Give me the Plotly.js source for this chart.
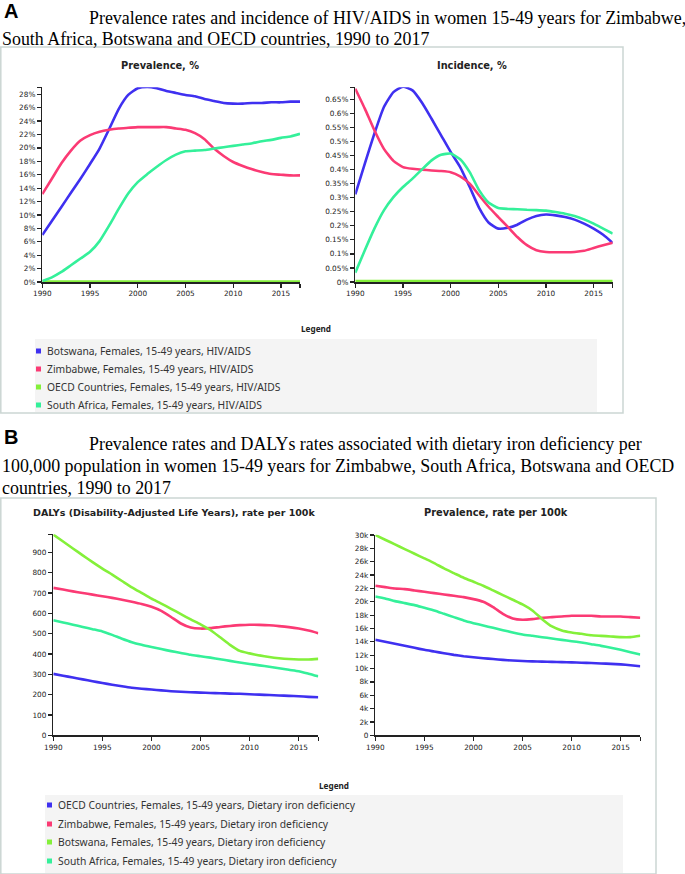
<!DOCTYPE html>
<html>
<head>
<meta charset="utf-8">
<script src="https://cdn.plot.ly/plotly-3.0.1.min.js"></script>
<style>
html,body{margin:0;padding:0;background:#fff;}
#chart{width:685px;height:874px;}
</style>
</head>
<body>
<div id="chart"></div>
<script>
// ---------- data ----------
const years = [1990,1991,1992,1993,1994,1995,1996,1997,1998,1999,2000,2001,2002,2003,2004,2005,2006,2007,2008,2009,2010,2011,2012,2013,2014,2015,2016,2017];

// Panel A: HIV/AIDS, women 15-49
const seriesA = ["Botswana, Females, 15-49 years, HIV/AIDS",
                 "Zimbabwe, Females, 15-49 years, HIV/AIDS",
                 "OECD Countries, Females, 15-49 years, HIV/AIDS",
                 "South Africa, Females, 15-49 years, HIV/AIDS"];
// Prevalence, %
const hivPrevBotswana  = [7.0,9.1,11.2,13.3,15.4,17.6,19.9,22.8,25.8,27.9,28.9,29.1,28.9,28.5,28.2,27.9,27.7,27.3,27.0,26.7,26.6,26.6,26.7,26.7,26.8,26.8,26.9,26.9];
const hivPrevZimbabwe  = [13.1,15.4,17.7,19.6,21.1,21.9,22.4,22.7,22.9,23.0,23.1,23.1,23.1,23.1,22.9,22.7,22.2,21.3,19.9,18.8,17.9,17.3,16.8,16.4,16.1,16.0,15.9,15.9];
const hivPrevOECD      = [0.05,0.05,0.06,0.06,0.07,0.07,0.07,0.08,0.08,0.08,0.08,0.08,0.08,0.08,0.08,0.08,0.08,0.08,0.08,0.08,0.08,0.08,0.08,0.08,0.08,0.08,0.08,0.08];
const hivPrevSouthAfrica = [0.15,0.7,1.5,2.5,3.5,4.5,6.1,8.4,10.9,13.2,14.9,16.1,17.2,18.2,19.0,19.5,19.6,19.7,19.9,20.1,20.3,20.5,20.7,21.0,21.2,21.5,21.7,22.1];
// Incidence, %
const hivIncBotswana   = [0.312,0.421,0.528,0.623,0.676,0.695,0.682,0.638,0.581,0.522,0.463,0.409,0.338,0.263,0.211,0.190,0.193,0.204,0.222,0.235,0.240,0.237,0.231,0.222,0.208,0.190,0.168,0.139];
const hivIncZimbabwe   = [0.688,0.617,0.540,0.474,0.431,0.409,0.403,0.400,0.397,0.395,0.391,0.376,0.350,0.308,0.267,0.231,0.196,0.160,0.131,0.113,0.107,0.106,0.106,0.107,0.111,0.121,0.131,0.140];
const hivIncOECD       = [0.003,0.003,0.003,0.003,0.003,0.003,0.003,0.003,0.003,0.003,0.003,0.003,0.003,0.003,0.003,0.003,0.003,0.003,0.003,0.003,0.003,0.003,0.003,0.003,0.003,0.003,0.003,0.003];
const hivIncSouthAfrica = [0.033,0.113,0.190,0.255,0.302,0.338,0.368,0.401,0.433,0.453,0.457,0.437,0.391,0.326,0.282,0.263,0.260,0.259,0.257,0.256,0.254,0.249,0.243,0.235,0.223,0.208,0.190,0.172];

// Panel B: dietary iron deficiency, women 15-49
const seriesB = ["OECD Countries, Females, 15-49 years, Dietary iron deficiency",
                 "Zimbabwe, Females, 15-49 years, Dietary iron deficiency",
                 "Botswana, Females, 15-49 years, Dietary iron deficiency",
                 "South Africa, Females, 15-49 years, Dietary iron deficiency"];
// DALYs, rate per 100k
const dalyOECD        = [302,293,284,275,266,257,249,241,234,229,225,221,217,214,212,210,208,207,205,204,202,200,198,196,194,192,189,187];
const dalyZimbabwe    = [725,717,708,700,692,684,676,667,657,646,632,612,582,550,530,525,527,533,538,542,544,543,541,537,532,525,515,502];
const dalyBotswana    = [987,953,919,885,852,820,790,759,728,700,672,648,622,596,570,546,518,482,445,415,403,393,385,379,375,373,373,376];
const dalySouthAfrica = [566,555,544,533,522,511,494,475,458,445,434,424,414,405,396,389,382,374,366,358,351,344,337,330,322,315,303,290];
// Prevalence, rate per 100k
const ironPrevOECD        = [14300,14000,13700,13400,13100,12800,12550,12300,12050,11850,11700,11550,11420,11300,11200,11120,11070,11030,11000,10960,10920,10870,10820,10760,10700,10620,10500,10350];
const ironPrevZimbabwe    = [22400,22200,22000,21900,21700,21500,21300,21100,20900,20700,20400,20000,19200,18200,17500,17300,17400,17600,17700,17800,17900,17900,17900,17800,17800,17800,17700,17600];
const ironPrevBotswana    = [30000,29300,28600,27900,27200,26500,25800,25000,24300,23600,23000,22400,21700,21000,20300,19600,18700,17400,16300,15700,15400,15200,15000,14900,14800,14700,14700,14900];
const ironPrevSouthAfrica = [20800,20500,20100,19800,19500,19100,18700,18200,17700,17200,16800,16450,16100,15750,15400,15100,14900,14700,14500,14300,14100,13900,13650,13400,13100,12800,12450,12100];

// tick labels
const xTickVals = [1990,1995,2000,2005,2010,2015,2017];
const xTickText = ["1990","1995","2000","2005","2010","2015",""];
const prevTickVals = [0,2,4,6,8,10,12,14,16,18,20,22,24,26,28];
const prevTickText = ["0%","2%","4%","6%","8%","10%","12%","14%","16%","18%","20%","22%","24%","26%","28%"];
const incTickVals = [0,0.05,0.1,0.15,0.2,0.25,0.3,0.35,0.4,0.45,0.5,0.55,0.6,0.65];
const incTickText = ["0%","0.05%","0.1%","0.15%","0.2%","0.25%","0.3%","0.35%","0.4%","0.45%","0.5%","0.55%","0.6%","0.65%"];
const dalyTickVals = [0,100,200,300,400,500,600,700,800,900];
const dalyTickText = ["0","100","200","300","400","500","600","700","800","900"];
const ironTickVals = [0,2000,4000,6000,8000,10000,12000,14000,16000,18000,20000,22000,24000,26000,28000,30000];
const ironTickText = ["0","2k","4k","6k","8k","10k","12k","14k","16k","18k","20k","22k","24k","26k","28k","30k"];

// ---------- styling ----------
const colors = ["#3f30f0","#fb3a74","#84f03a","#34f09a"];
const W = 685, H = 874;
const px = x => x / W;
const py = y => 1 - y / H;

const tickFont = {family:"DejaVu Sans", size:7.3, color:"#222"};
function xAxis(x0, x1, anchor){
  return {domain:[px(x0),px(x1)], range:[1990,2017], anchor:anchor,
    tickmode:"array", tickvals:xTickVals, ticktext:xTickText,
    ticks:"outside", ticklen:4, tickwidth:1.2, tickcolor:"#222",
    showline:true, linecolor:"#222", linewidth:1.5, showgrid:false, zeroline:false,
    tickfont:tickFont, fixedrange:true};
}
function yAxis(y0, y1, anchor, max, vals, text){
  return {domain:[py(y0),py(y1)], range:[0,max], anchor:anchor,
    tickmode:"array", tickvals:vals.concat([max]), ticktext:text.concat([""]),
    ticks:"outside", ticklen:4, tickwidth:1.2, tickcolor:"#222",
    showline:true, linecolor:"#222", linewidth:1.5, showgrid:false, zeroline:false,
    tickfont:tickFont, fixedrange:true};
}

function line(y, i, xa, ya){
  return {x:years, y:y, type:"scatter", mode:"lines", xaxis:xa, yaxis:ya,
    line:{color:colors[i], width:2.6, shape:"spline", smoothing:0.5},
    showlegend:false, hoverinfo:"skip"};
}

const traces = [
  line(hivPrevBotswana,0,"x","y"), line(hivPrevZimbabwe,1,"x","y"),
  line(hivPrevOECD,2,"x","y"), line(hivPrevSouthAfrica,3,"x","y"),
  line(hivIncBotswana,0,"x2","y2"), line(hivIncZimbabwe,1,"x2","y2"),
  line(hivIncOECD,2,"x2","y2"), line(hivIncSouthAfrica,3,"x2","y2"),
  line(dalyOECD,0,"x3","y3"), line(dalyZimbabwe,1,"x3","y3"),
  line(dalyBotswana,2,"x3","y3"), line(dalySouthAfrica,3,"x3","y3"),
  line(ironPrevOECD,0,"x4","y4"), line(ironPrevZimbabwe,1,"x4","y4"),
  line(ironPrevBotswana,2,"x4","y4"), line(ironPrevSouthAfrica,3,"x4","y4")
];

const annotations = [];
const shapes = [];
function txt(text, x, y, font, xanchor){
  annotations.push({text:text, x:px(x), y:py(y), xref:"paper", yref:"paper",
    xanchor:xanchor||"left", yanchor:"middle", showarrow:false, font:font});
}
const serif = {family:"Liberation Serif", size:17.9, color:"#000"};
const panelFont = {family:"Liberation Sans", size:20, color:"#000", weight:"bold"};
const subTitleFont = {family:"DejaVu Sans", size:9.8, color:"#222", weight:"bold"};
const subTitleFontB = {family:"DejaVu Sans", size:9.5, color:"#222", weight:"bold"};
const legTitleFont = {family:"Noto Sans", size:8.2, color:"#222", weight:"bold"};
const legFont = {family:"Noto Sans", size:10.3, color:"#333"};

// frames
shapes.push({type:"rect", xref:"paper", yref:"paper", x0:px(0.8), x1:px(623), y0:py(47), y1:py(413),
  line:{color:"#cbd6d3", width:1.5}, fillcolor:"rgba(0,0,0,0)", layer:"below"});
shapes.push({type:"rect", xref:"paper", yref:"paper", x0:px(0.8), x1:px(656), y0:py(498), y1:py(874),
  line:{color:"#cbd6d3", width:1.5}, fillcolor:"rgba(0,0,0,0)", layer:"below"});
// legend backgrounds
shapes.push({type:"rect", xref:"paper", yref:"paper", x0:px(35), x1:px(597), y0:py(339), y1:py(412),
  line:{width:0}, fillcolor:"#f4f4f4", layer:"below"});
shapes.push({type:"rect", xref:"paper", yref:"paper", x0:px(45), x1:px(623), y0:py(795), y1:py(873),
  line:{width:0}, fillcolor:"#f4f4f4", layer:"below"});

// panel A texts
txt("A", 2, 11, panelFont);
txt("Prevalence rates and incidence of HIV/AIDS in women 15-49 years for Zimbabwe,", 87, 18, serif);
txt("South Africa, Botswana and OECD countries, 1990 to 2017", 0, 39, serif);
txt("Prevalence, %", 160, 65, subTitleFont, "center");
txt("Incidence, %", 472, 65, subTitleFont, "center");
txt("Legend", 316, 329, legTitleFont, "center");
const legAy = [351, 369, 387, 405];
seriesA.forEach((s,i)=>{
  shapes.push({type:"rect", xref:"paper", yref:"paper", x0:px(36), x1:px(41), y0:py(legAy[i]-2.5), y1:py(legAy[i]+2.5),
    line:{width:0}, fillcolor:colors[i]});
  txt(s, 45, legAy[i], legFont);
});

// panel B texts
txt("B", 2, 437, panelFont);
txt("Prevalence rates and DALYs rates associated with dietary iron deficiency per", 87, 444, serif);
txt("100,000 population in women 15-49 years for Zimbabwe, South Africa, Botswana and OECD", 0, 466, serif);
txt("countries, 1990 to 2017", 0, 488, serif);
txt("DALYs (Disability-Adjusted Life Years), rate per 100k", 174, 512, subTitleFontB, "center");
txt("Prevalence, rate per 100k", 496, 512, subTitleFont, "center");
txt("Legend", 334, 785, legTitleFont, "center");
const legBy = [805, 824, 842, 861];
seriesB.forEach((s,i)=>{
  shapes.push({type:"rect", xref:"paper", yref:"paper", x0:px(47), x1:px(52), y0:py(legBy[i]-2.5), y1:py(legBy[i]+2.5),
    line:{width:0}, fillcolor:colors[i]});
  txt(s, 56, legBy[i], legFont);
});

const layout = {
  width:W, height:H, margin:{l:0,r:0,t:0,b:0},
  paper_bgcolor:"#ffffff", plot_bgcolor:"rgba(0,0,0,0)",
  showlegend:false,
  xaxis: xAxis(42.3, 300, "y"),
  yaxis: yAxis(282, 87.3, "x", 29.04, prevTickVals, prevTickText),
  xaxis2: xAxis(355.3, 612.7, "y2"),
  yaxis2: yAxis(282, 87.3, "x2", 0.693, incTickVals, incTickText),
  xaxis3: xAxis(53.3, 318.3, "y3"),
  yaxis3: yAxis(735.3, 534.3, "x3", 988.6, dalyTickVals, dalyTickText),
  xaxis4: xAxis(375.3, 640.3, "y4"),
  yaxis4: yAxis(735.3, 534.7, "x4", 30050, ironTickVals, ironTickText),
  annotations: annotations,
  shapes: shapes
};

Plotly.newPlot("chart", traces, layout, {displayModeBar:false, staticPlot:true});
</script>
</body>
</html>
